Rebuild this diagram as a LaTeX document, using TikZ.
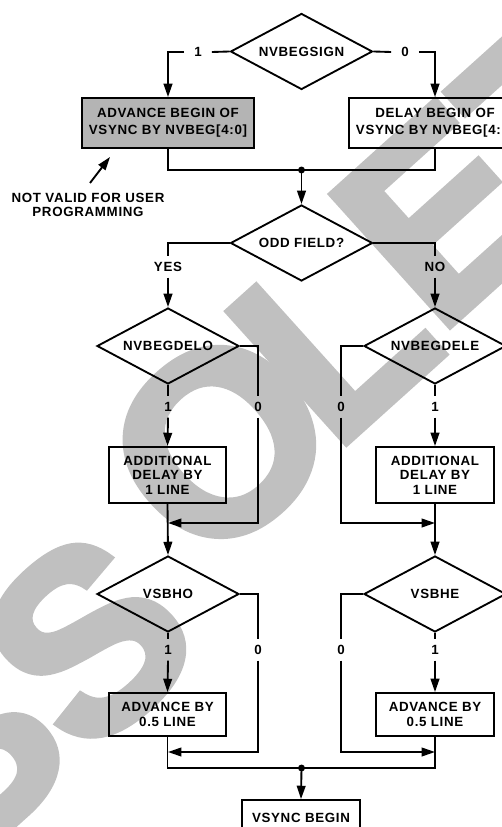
\documentclass[tikz,border=0pt]{standalone}
\usepackage{fontspec}
\newfontfamily\chartfont[LetterSpace=5]{Liberation Sans}
\newfontfamily\markfont[FakeBold=3]{Liberation Sans}
\usetikzlibrary{arrows.meta, shapes.geometric}
\definecolor{boxgray}{RGB}{180,180,180}
\definecolor{wmgray}{RGB}{192,192,192}
\tikzset{
  decision/.style={
    diamond, draw, aspect=1.9,
    inner sep=0pt,
    minimum width=106.5pt,
    minimum height=57pt,
  },
  process/.style={
    rectangle, draw, align=center,
    inner sep=0pt,
    minimum width=88pt,
    font=\chartfont\bfseries\fontsize{10pt}{10.8pt}\selectfont,
  },
  widebox/.style={
    minimum width=129pt,
    minimum height=37.5pt,
    font=\chartfont\bfseries\fontsize{10pt}{12.8pt}\selectfont,
  },
  lbl/.style={
    inner xsep=1pt, inner ysep=3.6pt,
    text height=7.2pt, text depth=0pt,
  },
  sidelbl/.style={
    inner xsep=7pt, inner ysep=1pt,
    text height=7.2pt, text depth=0pt,
  },
  flow/.style={-{Triangle[length=10pt, width=6.5pt]}},
  wm/.style={
    text=wmgray, inner sep=0pt, rotate=42,
    font=\markfont\bfseries\fontsize{192pt}{192pt}\selectfont,
  },
}

\begin{document}
\begin{tikzpicture}[x=0.75pt, y=-0.75pt, line width=1.4pt,
  font=\chartfont\bfseries\fontsize{10pt}{10.5pt}\selectfont]
  \useasboundingbox (0,0) rectangle (502,827);
  \clip (0,0) rectangle (502,827);

  % watermark, one letter at a time
  \foreach \ch/\px/\py [count=\i] in {O/-182/880, B/-42/756, S/88/640, O/220/442,
                                      L/333/336, E/442/214, T/561/107, E/680/0}
    \node[wm] (wm\i) at (\px,\py) {\ch};

  % sign
  \node[decision] (sign) at (301.5,51.5) {NVBEGSIGN};
  \node[sidelbl] (s1) at (198,52) {1};
  \node[sidelbl] (s0) at (405,52) {0};
  \node[process, widebox, fill=boxgray] (adv) at (168,123) {ADVANCE BEGIN OF\\VSYNC BY NVBEG[4:0]};
  \node[process, widebox] (del) at (435,123) {DELAY BEGIN OF\\VSYNC BY NVBEG[4:0]};
  \node[align=center] (note) at (88,205) {NOT VALID FOR USER\\PROGRAMMING};
  \coordinate (notefoot) at (90,183);
  \coordinate (notetip) at (110,157);
  \coordinate (j1) at (301.5,170);

  % odd / even field
  \node[decision] (odd) at (301.5,243) {ODD FIELD?};
  \node[lbl] (yes) at (168,267) {YES};
  \node[lbl] (no) at (435,267) {NO};

  % extra line delay
  \node[decision] (delo) at (168,346) {NVBEGDELO};
  \node[decision] (dele) at (435,346) {NVBEGDELE};
  \node[lbl] (o1) at (168,407) {1};
  \node[lbl] (o0) at (258,407) {0};
  \node[lbl] (e0) at (341,407) {0};
  \node[lbl] (e1) at (435,407) {1};
  \node[process, minimum height=42pt] (addo) at (167.5,475) {ADDITIONAL\\DELAY BY\\1 LINE};
  \node[process, minimum height=42pt] (adde) at (435,475) {ADDITIONAL\\DELAY BY\\1 LINE};
  \coordinate (mo) at (168,523);
  \coordinate (me) at (435,523);

  % half line advance
  \node[decision] (ho) at (168,594) {VSBHO};
  \node[decision] (he) at (435,594) {VSBHE};
  \node[lbl] (p1) at (168,650) {1};
  \node[lbl] (p0) at (258,650) {0};
  \node[lbl] (q0) at (341,650) {0};
  \node[lbl] (q1) at (435,650) {1};
  \node[process, minimum height=32.25pt] (advo) at (167.5,714.5) {ADVANCE BY\\0.5 LINE};
  \node[process, minimum height=32.25pt] (adve) at (435,714.5) {ADVANCE BY\\0.5 LINE};
  \coordinate (bo) at (168,752);
  \coordinate (be) at (435,752);
  \coordinate (j2) at (301.5,768);
  \node[process, minimum height=27pt] (vsync) at (301,818) {VSYNC BEGIN};

  % connectors
  \draw (sign.west) -- (s1.east);
  \draw[flow] (s1.west) -| (adv.north);
  \draw (sign.east) -- (s0.west);
  \draw[flow] (s0.east) -| (del.north);
  \draw[flow] (notefoot) -- (notetip);
  \draw (adv.south) |- (j1) -| (del.south);
  \fill (j1) circle (2.6pt);
  \draw[flow] (j1) -- (odd.north);

  \draw (odd.west) -| (yes.north);
  \draw[flow] (yes.south) -- (delo.north);
  \draw (odd.east) -| (no.north);
  \draw[flow] (no.south) -- (dele.north);

  \draw (delo.south) -- (o1.north);
  \draw[flow] (o1.south) -- (addo.north);
  \draw (delo.east) -| (o0.north);
  \draw[flow] (o0.south) |- (mo);
  \draw[flow] (addo.south) -- (ho.north);
  \draw (dele.south) -- (e1.north);
  \draw[flow] (e1.south) -- (adde.north);
  \draw (dele.west) -| (e0.north);
  \draw[flow] (e0.south) |- (me);
  \draw[flow] (adde.south) -- (he.north);

  \draw (ho.south) -- (p1.north);
  \draw[flow] (p1.south) -- (advo.north);
  \draw (ho.east) -| (p0.north);
  \draw[flow] (p0.south) |- (bo);
  \draw (he.south) -- (q1.north);
  \draw[flow] (q1.south) -- (adve.north);
  \draw (he.west) -| (q0.north);
  \draw[flow] (q0.south) |- (be);
  \draw (advo.south) |- (j2) -| (adve.south);
  \fill (j2) circle (2.6pt);
  \draw[flow] (j2) -- (vsync.north);
\end{tikzpicture}
\end{document}
